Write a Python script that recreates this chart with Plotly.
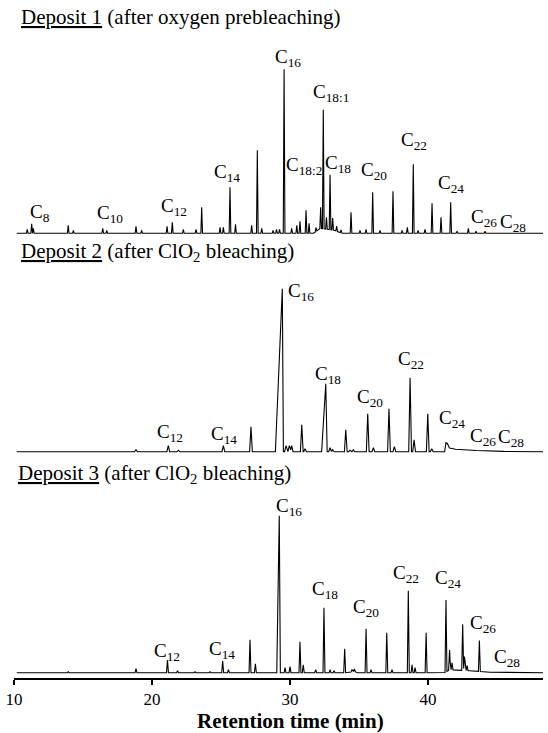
import numpy as np
import plotly.graph_objects as go

# ---------------- data (retention time in min, detector response in arbitrary units) -------------
d1_time = [10.96, 11.28, 11.40, 13.93, 14.30, 16.43, 16.72, 18.84, 19.25, 21.09, 21.47, 22.27,
           23.19, 23.60, 24.93, 25.17, 25.65, 26.05, 27.22, 27.63, 27.95, 28.77, 29.02, 29.24,
           29.57, 30.12, 30.49, 30.72, 31.16, 31.38, 31.88, 32.22, 32.41, 32.64, 32.90, 33.09,
           33.38, 33.70, 34.42, 35.07, 35.51, 35.99, 36.52, 37.46, 38.12, 38.50, 38.93, 39.28,
           39.78, 40.29, 40.94, 41.64, 42.10, 42.92, 43.48, 44.13]
d1_resp = [4, 9.5, 5, 8, 3, 5, 3, 7, 3, 7, 11, 4,
           4, 26, 6, 6, 46, 9, 8, 83, 5, 3, 4, 4,
           164, 5, 8, 12, 23, 10, 4, 21, 119, 12, 55, 12,
           5, 3, 21, 3, 4, 41, 3, 42, 3, 6, 69, 3,
           4, 30, 16, 31, 2, 5, 2, 2]
d1_base_t = [10.2, 31.7, 32.2, 33.2, 33.8, 48.33]
d1_base_y = [0, 0, 5, 3, 0, 0]

d2_time = [18.84, 21.18, 21.91, 25.17, 27.17, 29.44, 29.71, 29.95, 30.12, 30.85, 31.09, 32.59,
           32.90, 33.09, 34.04, 34.35, 34.59, 35.63, 36.04, 37.17, 37.56, 38.70, 38.99, 39.98,
           40.27, 41.30]
d2_resp = [2, 6, 1.5, 6, 25, 163, 6, 6, 6, 27, 3, 68,
           4, 2, 22, 1.5, 2, 38, 4, 43, 5, 74, 12, 38,
           3, 7]
d2_base_t = [10.2, 41.2, 41.4, 42.0, 43.5, 45.5, 48.33]
d2_base_y = [0, 0, 4, 2.5, 1.2, 0.3, 0]

d3_time = [13.93, 18.84, 21.12, 21.85, 23.12, 24.20, 25.12, 25.54, 27.10, 27.49, 29.22, 29.64,
           30.00, 30.72, 30.96, 31.86, 32.46, 32.90, 33.19, 33.96, 34.49, 34.67, 35.51, 35.87,
           37.01, 37.39, 38.57, 38.84, 39.06, 39.86, 41.30, 41.56, 41.74, 42.51, 42.64, 42.83,
           43.72]
d3_resp = [1, 4, 12.7, 2, 1, 1, 11.7, 3, 33, 9, 157, 5,
           6, 31, 8, 3, 65, 3, 2, 24, 2, 2.5, 44, 3,
           40, 3, 82, 8, 5, 40, 72, 20, 7, 46, 14, 5,
           31]
d3_base_t = [10.2, 34.3, 34.6, 34.9, 41.2, 41.6, 43.0, 44.5, 48.33]
d3_base_y = [0, 0, 1.5, 0, 0, 3, 2, 0.5, 0]

# peak labels (carbon number) with label anchor (min, response)
lab1 = ["8", "10", "12", "14", "16", "18:1", "18:2", "18", "20", "22", "24", "26", "28"]
lab1_t = [11.85, 16.93, 21.59, 25.43, 29.86, 32.97, 31.01, 33.48, 36.09, 38.99, 41.67, 44.06, 46.16]
lab1_y = [23, 22, 29, 63, 178, 143, 70, 72, 65, 95, 52, 18, 13]

lab2 = ["12", "14", "16", "18", "20", "22", "24", "26", "28"]
lab2_t = [21.30, 25.25, 30.80, 32.75, 35.76, 38.73, 41.74, 43.99, 46.01]
lab2_y = [22, 20, 163, 80, 57, 95, 36, 18, 17]

lab3 = ["12", "14", "16", "18", "20", "22", "24", "26", "28"]
lab3_t = [21.05, 25.07, 29.93, 32.54, 35.47, 38.41, 41.45, 43.95, 45.69]
lab3_y = [24, 26, 169, 86, 68, 102, 97, 52, 18]

titles = ["<u>Deposit 1</u> (after oxygen prebleaching)",
          "<u>Deposit 2</u> (after ClO<sub>2</sub> bleaching)",
          "<u>Deposit 3</u> (after ClO<sub>2</sub> bleaching)"]
x_ticks = [10, 20, 30, 40]


# ---------------- helpers ----------------
def chromatogram(times, resp, base_t, base_y, w, wide=None):
    wide = wide or {}
    t = np.asarray(times, float)
    h = np.asarray(resp, float)
    wl = np.array([wide.get(round(v, 2), (w, w))[0] for v in t])
    wr = np.array([wide.get(round(v, 2), (w, w))[1] for v in t])
    knots = np.unique(np.concatenate([base_t, t - wl, t, t + wr]))
    y = np.interp(knots, base_t, base_y)
    for ti, hi, a, b in zip(t, h, wl, wr):
        left = (knots >= ti - a) & (knots <= ti)
        right = (knots > ti) & (knots <= ti + b)
        y[left] += hi * (1 - (ti - knots[left]) / a)
        y[right] += hi * (1 - (knots[right] - ti) / b)
    return knots, y


W, H = 548, 733
ML, MR, MT, MB = 14, 5, 0, 55
PH = H - MT - MB
PW = W - ML - MR


def fy(Y):  # pixel row -> paper fraction
    return (H - MB - Y) / PH


def fx(X):
    return (X - ML) / PW


FONT = "Liberation Serif, Times New Roman, serif"

fig = go.Figure()
panels = [
    (d1_time, d1_resp, d1_base_t, d1_base_y, 0.06, {}, "y", lab1, lab1_t, lab1_y),
    (d2_time, d2_resp, d2_base_t, d2_base_y, 0.10, {29.44: (0.5, 0.08), 32.59: (0.3, 0.1), 41.30: (0.1, 0.25)}, "y2", lab2, lab2_t, lab2_y),
    (d3_time, d3_resp, d3_base_t, d3_base_y, 0.07, {29.22: (0.18, 0.08)}, "y3", lab3, lab3_t, lab3_y),
]
for times, resp, bt, by, w, wide, yref, labs, lt, ly in panels:
    xs, ys = chromatogram(times, resp, bt, by, w, wide)
    fig.add_trace(go.Scatter(x=xs, y=ys, mode="lines", xaxis="x", yaxis=yref,
                             line=dict(color="black", width=1.1), hoverinfo="skip", showlegend=False))
    for s, xv, yv in zip(labs, lt, ly):
        fig.add_annotation(x=xv, y=yv, xref="x", yref=yref, text=f"C<sub>{s}</sub>",
                           showarrow=False, xanchor="center", yanchor="middle", yshift=-3,
                           font=dict(family=FONT, size=19, color="black"))

# panel titles
for txt, Y, X in zip(titles, [17, 252, 474], [19, 19, 16]):
    fig.add_annotation(x=fx(X), y=fy(Y), xref="paper", yref="paper", text=txt, showarrow=False,
                       xanchor="left", yanchor="middle", font=dict(family=FONT, size=21, color="black"))

fig.add_annotation(x=fx(290), y=fy(721), xref="paper", yref="paper", text="<b>Retention time (min)</b>",
                   showarrow=False, xanchor="center", yanchor="middle",
                   font=dict(family=FONT, size=21, color="black"))

fig.update_layout(
    width=W, height=H, margin=dict(l=ML, r=MR, t=MT, b=MB),
    paper_bgcolor="white", plot_bgcolor="white", showlegend=False,
    xaxis=dict(range=[10, 48.33], anchor="y3", tickvals=x_ticks, ticks="outside", ticklen=5,
               tickwidth=1.5, tickcolor="black", showline=True, linecolor="black", linewidth=1.5,
               showgrid=False, zeroline=False, automargin=False,
               tickfont=dict(family=FONT, size=17, color="black")),
    yaxis=dict(domain=[fy(240), fy(40)], range=[-6.7, 193.3], visible=False),
    yaxis2=dict(domain=[fy(458), fy(270)], range=[-6.3, 181.7], visible=False),
    yaxis3=dict(domain=[fy(678), fy(490)], range=[-5.3, 182.7], visible=False),
)

fig.write_html("out.html", config={"displayModeBar": False},
               post_script="document.body.style.margin='0';document.body.style.overflow='hidden';")
